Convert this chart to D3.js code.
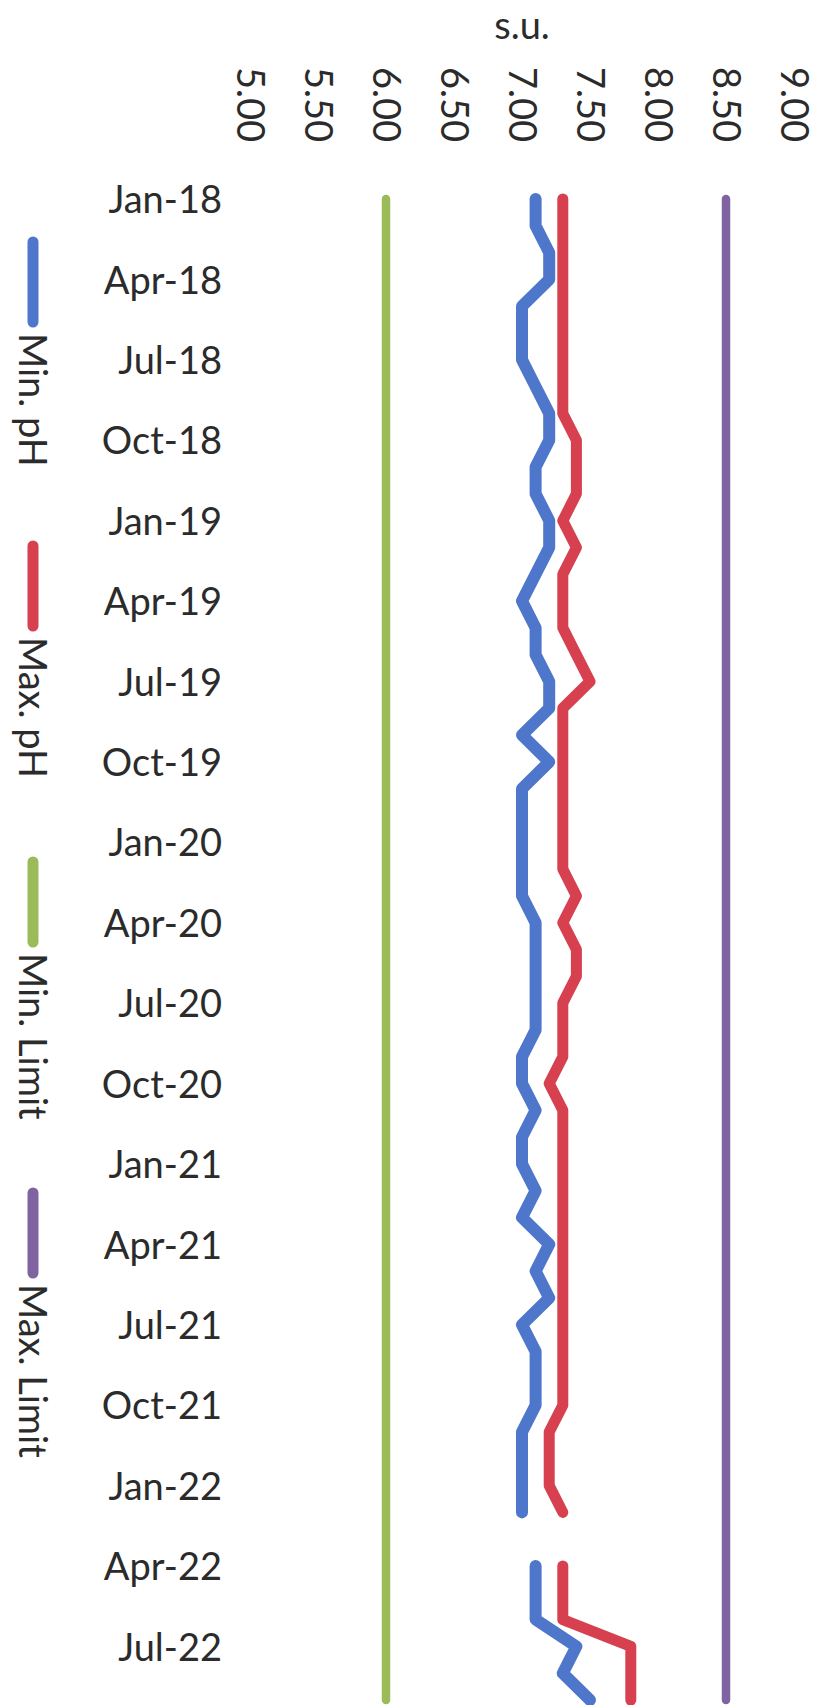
<!DOCTYPE html>
<html>
<head>
<meta charset="utf-8">
<script src="https://cdn.jsdelivr.net/npm/d3@7"></script>
<style>
  html, body { margin: 0; padding: 0; background: #ffffff; }
  svg { display: block; }
  text { font-family: Lato, "Open Sans", sans-serif; fill: #2b2b2b; }
</style>
</head>
<body>
<svg id="chart" width="822" height="1705"></svg>
<script>
// ---------------- data ----------------
const months = [
  "Jan-18","Feb-18","Mar-18","Apr-18","May-18","Jun-18","Jul-18","Aug-18","Sep-18","Oct-18","Nov-18","Dec-18",
  "Jan-19","Feb-19","Mar-19","Apr-19","May-19","Jun-19","Jul-19","Aug-19","Sep-19","Oct-19","Nov-19","Dec-19",
  "Jan-20","Feb-20","Mar-20","Apr-20","May-20","Jun-20","Jul-20","Aug-20","Sep-20","Oct-20","Nov-20","Dec-20",
  "Jan-21","Feb-21","Mar-21","Apr-21","May-21","Jun-21","Jul-21","Aug-21","Sep-21","Oct-21","Nov-21","Dec-21",
  "Jan-22","Feb-22","Mar-22","Apr-22","May-22","Jun-22","Jul-22","Aug-22","Sep-22"
];
const minPH = [
  7.1,7.1,7.2,7.2,7.0,7.0,7.0,7.1,7.2,7.2,7.1,7.1,
  7.2,7.2,7.1,7.0,7.1,7.1,7.2,7.2,7.0,7.2,7.0,7.0,
  7.0,7.0,7.0,7.1,7.1,7.1,7.1,7.1,7.0,7.0,7.1,7.0,
  7.0,7.1,7.0,7.2,7.1,7.2,7.0,7.1,7.1,7.1,7.0,7.0,
  7.0,7.0,null,7.1,7.1,7.1,7.4,7.3,7.5
];
const maxPH = [
  7.3,7.3,7.3,7.3,7.3,7.3,7.3,7.3,7.3,7.4,7.4,7.4,
  7.3,7.4,7.3,7.3,7.3,7.4,7.5,7.3,7.3,7.3,7.3,7.3,
  7.3,7.3,7.4,7.3,7.4,7.4,7.3,7.3,7.3,7.2,7.3,7.3,
  7.3,7.3,7.3,7.3,7.3,7.3,7.3,7.3,7.3,7.3,7.2,7.2,
  7.2,7.3,null,7.3,7.3,7.3,7.8,7.8,7.8
];
const minLimit = [
  6.0,6.0,6.0,6.0,6.0,6.0,6.0,6.0,6.0,6.0,6.0,6.0,
  6.0,6.0,6.0,6.0,6.0,6.0,6.0,6.0,6.0,6.0,6.0,6.0,
  6.0,6.0,6.0,6.0,6.0,6.0,6.0,6.0,6.0,6.0,6.0,6.0,
  6.0,6.0,6.0,6.0,6.0,6.0,6.0,6.0,6.0,6.0,6.0,6.0,
  6.0,6.0,6.0,6.0,6.0,6.0,6.0,6.0,6.0
];
const maxLimit = [
  8.5,8.5,8.5,8.5,8.5,8.5,8.5,8.5,8.5,8.5,8.5,8.5,
  8.5,8.5,8.5,8.5,8.5,8.5,8.5,8.5,8.5,8.5,8.5,8.5,
  8.5,8.5,8.5,8.5,8.5,8.5,8.5,8.5,8.5,8.5,8.5,8.5,
  8.5,8.5,8.5,8.5,8.5,8.5,8.5,8.5,8.5,8.5,8.5,8.5,
  8.5,8.5,8.5,8.5,8.5,8.5,8.5,8.5,8.5
];
const valueTicks = [5.0, 5.5, 6.0, 6.5, 7.0, 7.5, 8.0, 8.5, 9.0];
const monthTicks = ["Jan-18","Apr-18","Jul-18","Oct-18","Jan-19","Apr-19","Jul-19","Oct-19",
  "Jan-20","Apr-20","Jul-20","Oct-20","Jan-21","Apr-21","Jul-21","Oct-21","Jan-22","Apr-22","Jul-22"];
const seriesNames = ["Min. pH", "Max. pH", "Min. Limit", "Max. Limit"];
const unitLabel = "s.u.";

// ---------------- layout / style ----------------
const colors = ["#4e77cb", "#d6404f", "#9bbb59", "#8064a2"];
const widths = [12, 11, 8.5, 8.5];
const series = [minPH, maxPH, minLimit, maxLimit];

const svg = d3.select("#chart");

const x = d3.scaleLinear().domain([5, 9]).range([250, 794]);
const y = d3.scalePoint().domain(months).range([199, 1700]).padding(0);

// unit title
svg.append("text")
  .attr("x", 522).attr("y", 24)
  .attr("text-anchor", "middle")
  .attr("dominant-baseline", "central")
  .style("font-size", "38px")
  .text(unitLabel);

// value axis (top), labels rotated
const xAxis = svg.append("g")
  .attr("transform", "translate(0,67)")
  .call(d3.axisTop(x).tickValues(valueTicks).tickFormat(d3.format(".2f")).tickSize(0).tickPadding(0));
xAxis.select(".domain").remove();
xAxis.selectAll(".tick text")
  .attr("transform", "rotate(90)")
  .attr("x", 0).attr("y", 0).attr("dy", "0.36em")
  .attr("text-anchor", "start")
  .style("font-family", "Lato, sans-serif")
  .style("font-size", "38px")
  .style("fill", "#2b2b2b");

// category axis (left)
const yAxis = svg.append("g")
  .attr("transform", "translate(222,0)")
  .call(d3.axisLeft(y).tickValues(monthTicks).tickSize(0).tickPadding(0));
yAxis.select(".domain").remove();
yAxis.selectAll(".tick text")
  .attr("dy", "0.36em")
  .style("font-family", "Lato, sans-serif")
  .style("font-size", "38px")
  .style("fill", "#2b2b2b");

// lines
const line = d3.line()
  .defined(d => d.v !== null)
  .x(d => x(d.v))
  .y(d => y(d.m));

series.forEach((vals, i) => {
  const pts = months.map((m, k) => ({ m: m, v: vals[k] }));
  svg.append("path")
    .datum(pts)
    .attr("fill", "none")
    .attr("stroke", colors[i])
    .attr("stroke-width", widths[i])
    .attr("stroke-linejoin", "round")
    .attr("stroke-linecap", "round")
    .attr("d", line);
});

// legend (rotated, on the left)
const legendStarts = [237, 541, 857, 1188];
const legendX = 33;
const swatchLen = 90;
seriesNames.forEach((name, i) => {
  const y0 = legendStarts[i];
  svg.append("line")
    .attr("x1", legendX).attr("x2", legendX)
    .attr("y1", y0 + 5).attr("y2", y0 + swatchLen - 5)
    .attr("stroke", colors[i])
    .attr("stroke-width", 11)
    .attr("stroke-linecap", "round");
  svg.append("text")
    .attr("transform", `translate(${legendX},${y0 + swatchLen + 6}) rotate(90)`)
    .attr("dy", "0.36em")
    .attr("text-anchor", "start")
    .style("font-size", "38px")
    .text(name);
});
</script>
</body>
</html>
